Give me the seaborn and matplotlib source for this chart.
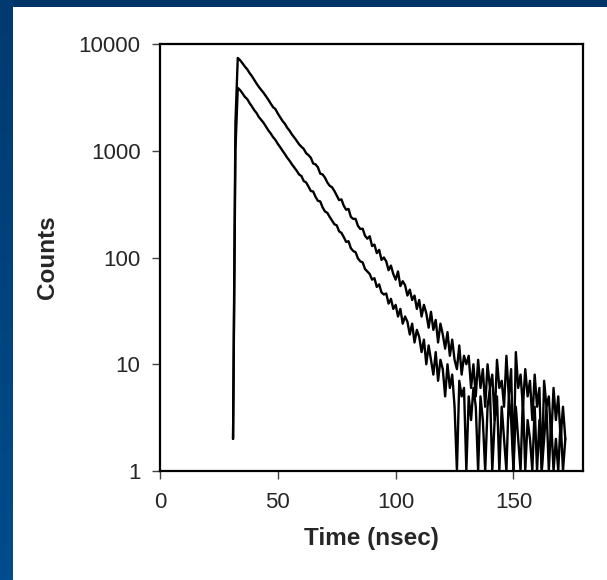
import numpy as np
import pandas as pd
import seaborn as sns
import matplotlib.pyplot as plt
from matplotlib.colors import LinearSegmentedColormap
from matplotlib.ticker import FixedLocator, NullLocator

# time channels (nsec)
time_ns = list(range(31, 173))

# upper decay curve (counts), t = 31..59, 60..130, 131..172
counts_a = ([2, 1800, 7400, 7050, 6600, 6150, 5800, 5350, 5000, 4600,
             4250, 3950, 3700, 3480, 3230, 3000, 2760, 2560, 2450, 2230,
             2060, 1900, 1790, 1640, 1540, 1420, 1330, 1240, 1150]
            + [1090, 1040, 950, 910, 860, 760, 745, 700, 610, 600,
               560, 505, 470, 455, 420, 380, 345, 350, 305, 280,
               285, 240, 230, 230, 198, 185, 186, 160, 150, 158,
               128, 132, 110, 118, 95, 100, 92, 76, 84, 70,
               62, 74, 54, 60, 55, 44, 50, 40, 44, 33,
               40, 28, 36, 30, 22, 31, 21, 26, 16, 24,
               19, 14, 20, 12, 17, 11, 9, 15, 8, 12,
               10]
            + [12, 6, 10, 5, 11, 6, 9, 4, 10, 6,
               8, 3, 11, 6, 7, 4, 12, 5, 9, 1,
               13, 6, 8, 4, 9, 5, 7, 3, 8, 4,
               6, 1, 7, 4, 5, 2, 6, 3, 5, 2,
               4, 2])

# lower decay curve (counts)
counts_b = ([2, 1000, 3880, 3700, 3450, 3200, 3050, 2800, 2600, 2400,
             2250, 2060, 1940, 1820, 1680, 1550, 1450, 1340, 1260, 1160,
             1080, 1000, 930, 860, 805, 745, 695, 650, 600]
            + [580, 520, 505, 462, 420, 415, 370, 340, 335, 295,
               270, 262, 240, 222, 205, 200, 176, 170, 155, 140,
               142, 122, 115, 112, 98, 92, 90, 78, 74, 70,
               62, 64, 53, 56, 47, 45, 46, 37, 41, 33,
               36, 28, 33, 24, 28, 25, 19, 24, 16, 21,
               18, 13, 17, 10, 15, 11, 8, 13, 7, 11,
               9, 5, 10, 6, 8, 4, 1, 7, 5, 6,
               1]
            + [5, 3, 6, 4, 1, 5, 3, 1, 4, 6,
               1, 3, 5, 1, 4, 2, 1, 5, 3, 1,
               4, 2, 1, 5, 1, 3, 2, 1, 4, 1,
               3, 1, 2, 4, 1, 3, 1, 2, 1, 3,
               1, 2])

x_ticks = [0, 50, 100, 150]
y_ticks = [1, 10, 100, 1000, 10000]
y_tick_labels = ["1", "10", "100", "1000", "10000"]

df = pd.concat([
    pd.DataFrame({"Time": time_ns, "Counts": counts_a, "curve": "a"}),
    pd.DataFrame({"Time": time_ns, "Counts": counts_b, "curve": "b"}),
])

sns.set_style("ticks")
plt.rcParams["font.family"] = ["Liberation Sans", "DejaVu Sans"]

fig = plt.figure(figsize=(6.07, 5.80), dpi=100)
fig.patch.set_facecolor("#003366")

# left blue strip with a soft gradient
strip = fig.add_axes([0, 0, 13 / 607, 1], zorder=-2)
cmap = LinearSegmentedColormap.from_list("strip", ["#003a70", "#004c8c"])
strip.imshow(np.linspace(0, 1, 100).reshape(-1, 1), aspect="auto", cmap=cmap)
strip.set_axis_off()

# white panel
panel = fig.add_axes([13 / 607, 0, 1 - 13 / 607, 573 / 580], zorder=-1)
panel.set_facecolor("white")
panel.set_xticks([])
panel.set_yticks([])
for s in panel.spines.values():
    s.set_visible(False)

ax = fig.add_axes([160 / 607, 109 / 580, 423 / 607, 427 / 580])
sns.lineplot(data=df, x="Time", y="Counts", units="curve", estimator=None,
             color="black", linewidth=1.7, ax=ax, sort=False)

ax.set_yscale("log")
ax.set_xlim(0, 179.5)
ax.set_ylim(1, 10000)
ax.xaxis.set_major_locator(FixedLocator(x_ticks))
ax.yaxis.set_major_locator(FixedLocator(y_ticks))
ax.yaxis.set_minor_locator(NullLocator())
ax.set_yticklabels(y_tick_labels)
ax.tick_params(axis="both", labelsize=16, length=6, width=1, color="#444444",
               direction="out")
ax.tick_params(axis="y", pad=8)
ax.tick_params(axis="x", pad=9)
for s in ax.spines.values():
    s.set_visible(True)
    s.set_linewidth(1.6)
    s.set_color("black")

ax.set_xlabel("Time (nsec)", fontsize=17.5, fontweight="bold", labelpad=10)
ax.set_ylabel("Counts", fontsize=17.5, fontweight="bold", labelpad=14)

fig.savefig("out.png", dpi=100, facecolor=fig.get_facecolor())
